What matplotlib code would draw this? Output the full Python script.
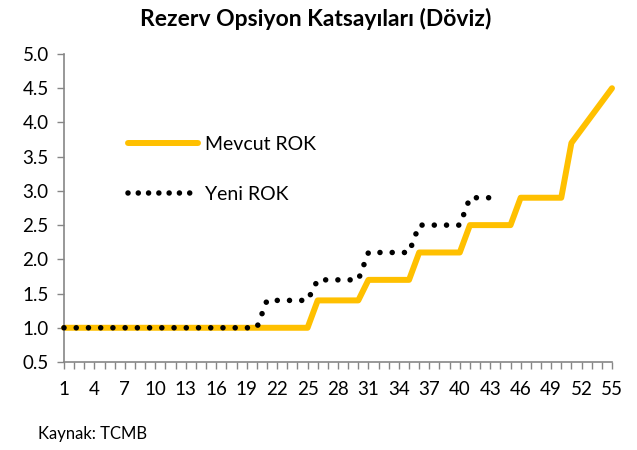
import matplotlib
matplotlib.use("Agg")
import matplotlib.pyplot as plt
from matplotlib.lines import Line2D

plt.rcParams['font.family'] = ['Lato', 'DejaVu Sans']

title = "Rezerv Opsiyon Katsayıları (Döviz)"
source = "Kaynak: TCMB"
label_mevcut = "Mevcut ROK"
label_yeni = "Yeni ROK"

x_mevcut = list(range(1, 56))
mevcut = [1.0] * 25 + [1.4] * 5 + [1.7] * 5 + [2.1] * 5 + [2.5] * 5 + [2.9] * 5 + [3.7, 3.9, 4.1, 4.3, 4.5]
x_yeni = list(range(1, 45))
yeni = [1.0] * 20 + [1.4] * 5 + [1.7] * 5 + [2.1] * 5 + [2.5] * 5 + [2.9] * 4

y_ticks = [0.5, 1.0, 1.5, 2.0, 2.5, 3.0, 3.5, 4.0, 4.5, 5.0]
x_labels = list(range(1, 56, 3))

ORANGE = '#FFC000'
LW_O = 4.3
LW_D = 4.0
DOTS = (0, (0.001, 2.2))

fig = plt.figure(figsize=(6.37, 4.5), dpi=100)
ax = fig.add_axes([64/637, 1-362/450, (612-64)/637, (362-54)/450])

ax.plot(x_mevcut, mevcut, color=ORANGE, lw=LW_O, solid_joinstyle='round',
        solid_capstyle='round', zorder=2, clip_on=False)
ax.plot(x_yeni, yeni, color='black', lw=LW_D, linestyle=DOTS,
        dash_capstyle='round', zorder=3, clip_on=False)

ax.set_xlim(1, 55)
ax.set_ylim(0.5, 5.0)
ax.set_yticks(y_ticks)
ax.set_yticklabels([f"{v:.1f}" for v in y_ticks])
ax.set_xticks(x_mevcut)
ax.set_xticklabels([str(v) if v in x_labels else "" for v in x_mevcut])

for s in ['top', 'right']:
    ax.spines[s].set_visible(False)
for s in ['left', 'bottom']:
    ax.spines[s].set_color('#868686')
    ax.spines[s].set_linewidth(1.2)
ax.tick_params(axis='both', colors='#868686', labelcolor='black', labelsize=13.5, length=5, width=1)
ax.tick_params(axis='x', pad=9)
ax.tick_params(axis='y', pad=6)

handles = [Line2D([], [], color=ORANGE, lw=LW_O, solid_capstyle='round'),
           Line2D([], [], color='black', lw=LW_D, linestyle=(0, (0.001, 1.85)), dash_capstyle='round')]
ax.legend(handles, [label_mevcut, label_yeni], loc='upper left', bbox_to_anchor=(0.088, 0.785),
          frameon=False, fontsize=14, handlelength=3.6, handletextpad=0.35, labelspacing=1.7,
          borderpad=0.3)

fig.text(0.495, 0.958, title, ha='center', va='center', fontsize=16.5, fontweight='bold')
fig.text(38/637, 1-434/450, source, ha='left', va='center', fontsize=12)

fig.savefig("out.png", dpi=100)
